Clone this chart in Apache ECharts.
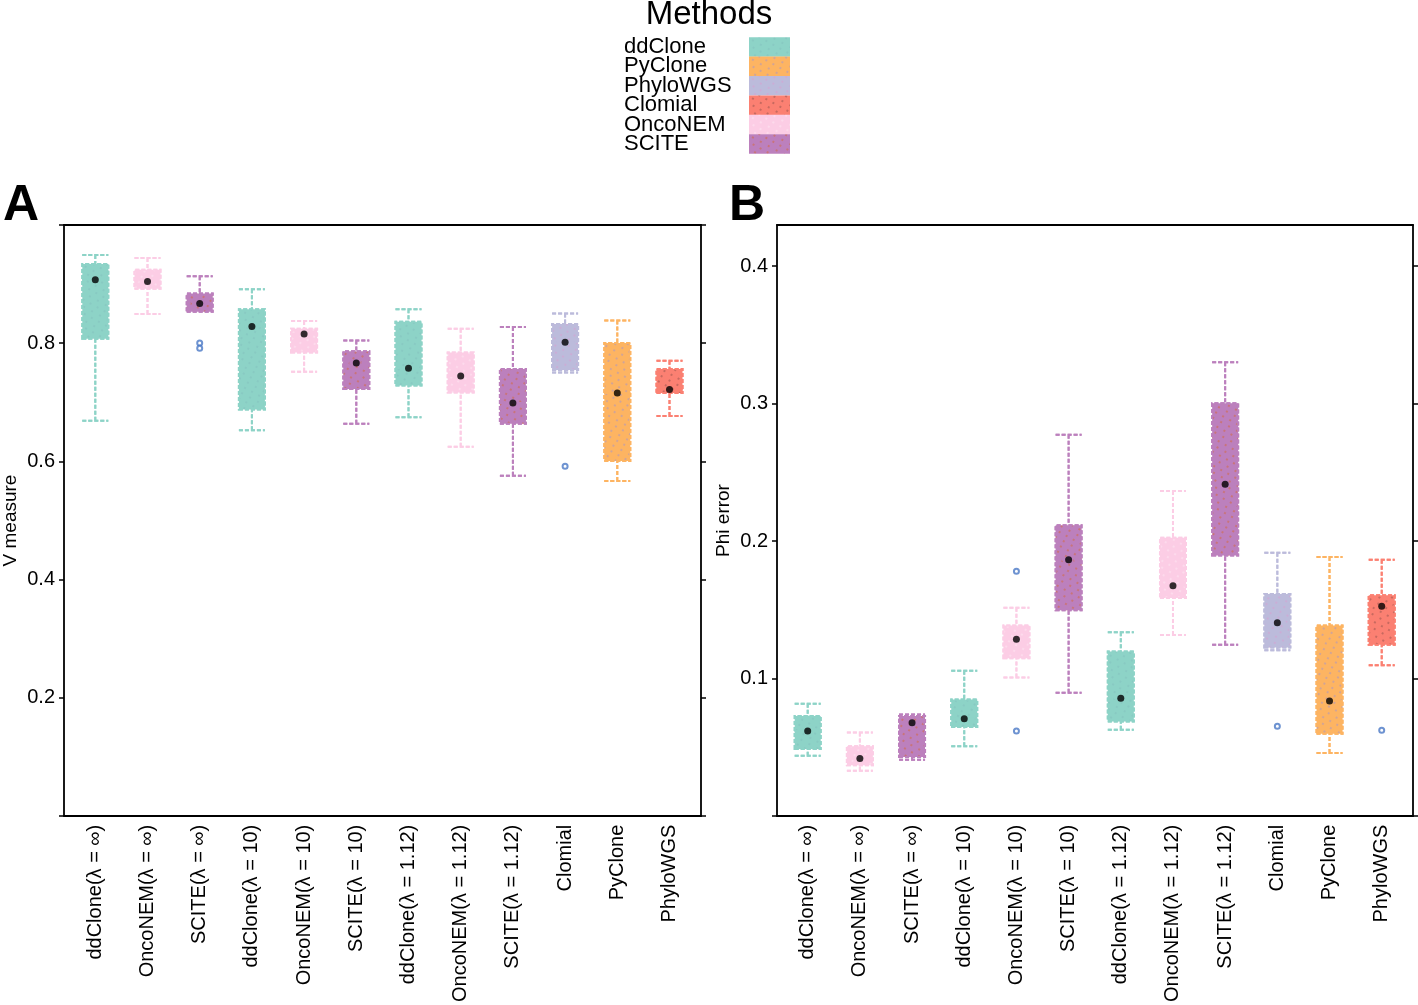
<!DOCTYPE html>
<html>
<head>
<meta charset="utf-8">
<script src="https://cdn.jsdelivr.net/npm/echarts@6/dist/echarts.min.js"></script>
<style>
html,body{margin:0;padding:0;background:#fff;}
#chart{width:1418px;height:1005px;}
</style>
</head>
<body>
<div id="chart"></div>
<script>
// ---------- data ----------
const categories = ['ddClone(λ = ∞)', 'OncoNEM(λ = ∞)', 'SCITE(λ = ∞)',
  'ddClone(λ = 10)', 'OncoNEM(λ = 10)', 'SCITE(λ = 10)',
  'ddClone(λ = 1.12)', 'OncoNEM(λ = 1.12)', 'SCITE(λ = 1.12)',
  'Clomial', 'PyClone', 'PhyloWGS'];
const methods = ['ddClone', 'PyClone', 'PhyloWGS', 'Clomial', 'OncoNEM', 'SCITE'];
// legend colour used by each box (as drawn in the figure)
const boxMethod = ['ddClone', 'OncoNEM', 'SCITE', 'ddClone', 'OncoNEM', 'SCITE',
  'ddClone', 'OncoNEM', 'SCITE', 'PhyloWGS', 'PyClone', 'Clomial'];

// [min, Q1, median, Q3, max]
const vMeasureBoxes = [
  [0.668, 0.807, 0.907, 0.934, 0.949],
  [0.849, 0.892, 0.904, 0.924, 0.944],
  [0.853, 0.853, 0.867, 0.884, 0.913],
  [0.652, 0.687, 0.828, 0.857, 0.891],
  [0.751, 0.784, 0.815, 0.824, 0.837],
  [0.663, 0.722, 0.766, 0.786, 0.804],
  [0.674, 0.728, 0.757, 0.836, 0.857],
  [0.624, 0.716, 0.744, 0.784, 0.824],
  [0.575, 0.663, 0.698, 0.756, 0.827],
  [0.750, 0.754, 0.801, 0.832, 0.850],
  [0.566, 0.600, 0.715, 0.800, 0.838],
  [0.676, 0.715, 0.721, 0.756, 0.770]
];
const vMeasureOutliers = [[2, 0.800], [2, 0.791], [9, 0.591]];

const phiErrorBoxes = [
  [0.043, 0.048, 0.061, 0.072, 0.081],
  [0.032, 0.036, 0.041, 0.050, 0.060],
  [0.040, 0.042, 0.067, 0.072, 0.073],
  [0.050, 0.064, 0.070, 0.084, 0.105],
  [0.100, 0.114, 0.128, 0.138, 0.151],
  [0.089, 0.149, 0.186, 0.211, 0.277],
  [0.062, 0.068, 0.085, 0.119, 0.133],
  [0.131, 0.158, 0.167, 0.202, 0.236],
  [0.124, 0.189, 0.241, 0.300, 0.330],
  [0.120, 0.122, 0.140, 0.161, 0.191],
  [0.045, 0.059, 0.083, 0.138, 0.188],
  [0.109, 0.124, 0.152, 0.160, 0.186]
];
const phiErrorOutliers = [[4, 0.061], [4, 0.1775], [9, 0.0645], [11, 0.0615]];

const vMeasureTickValues = [0, 0.2, 0.4, 0.6, 0.8, 1.0];
const vMeasureLabelValues = [0.2, 0.4, 0.6, 0.8];
const phiErrorTickValues = [0, 0.1, 0.2, 0.3, 0.4];
const phiErrorLabelValues = [0.1, 0.2, 0.3, 0.4];

// ---------- styles ----------
const FONT = "'Liberation Sans', Arial, Helvetica, sans-serif";
const methodColor = {
  ddClone: '#8dd3c7', PyClone: '#fdb462', PhyloWGS: '#bcbbdb',
  Clomial: '#fb8072', OncoNEM: '#fccde5', SCITE: '#bc80bd'
};
const methodDotColor = {
  ddClone: 'rgba(110,150,170,0.2)', PyClone: 'rgba(140,140,235,0.5)', PhyloWGS: 'rgba(235,140,200,0.4)',
  Clomial: 'rgba(80,50,50,0.4)', OncoNEM: 'rgba(255,255,255,0.35)', SCITE: 'rgba(215,100,40,0.6)'
};
function decalFor(m) {
  return {
    symbol: 'circle', symbolSize: 1, symbolKeepAspect: true,
    color: methodDotColor[m], backgroundColor: null,
    dashArrayX: [[1.5, 6], [0, 3.8, 1.5, 2.2]], dashArrayY: [1.5, 3.6],
    rotation: 0.5, maxTileWidth: 512, maxTileHeight: 512
  };
}
const axisLine = { show: true, onZero: false, lineStyle: { color: '#000', width: 1.8 } };
const tickStyle = { color: '#000', width: 1.5 };

function frameX(gridIndex, pos) {
  return { gridIndex, type: 'value', min: 0, max: 1, position: pos,
    axisLine, axisTick: { show: false }, axisLabel: { show: false }, splitLine: { show: false } };
}
function dataX(gridIndex) {
  return { gridIndex, type: 'category', data: categories,
    axisLine: { show: false }, axisTick: { show: false }, splitLine: { show: false },
    axisLabel: { rotate: 90, margin: 10, fontSize: 20, color: '#000', fontFamily: FONT, interval: 0 } };
}
function frameYLeft(gridIndex, max, interval, ticks, labels, name) {
  return { gridIndex, type: 'value', min: 0, max, interval, position: 'left',
    axisLine, splitLine: { show: false },
    axisTick: { show: true, inside: false, length: 5, lineStyle: tickStyle, customValues: ticks },
    axisLabel: { show: true, margin: 9, fontSize: 20, color: '#000', fontFamily: FONT, customValues: labels,
      formatter: v => (labels.some(l => Math.abs(l - v) < 1e-6) ? v.toFixed(1) : '') },
    name, nameLocation: 'middle', nameGap: 44,
    nameTextStyle: { fontSize: 19, color: '#000', fontFamily: FONT } };
}
function frameYRight(gridIndex, max, interval, ticks) {
  return { gridIndex, type: 'value', min: 0, max, interval, position: 'right',
    axisLine, splitLine: { show: false },
    axisTick: { show: true, inside: false, length: 5, lineStyle: tickStyle, customValues: ticks },
    axisLabel: { show: false } };
}
function dataY(gridIndex, max) {
  return { gridIndex, type: 'value', min: 0, max, show: false, splitLine: { show: false } };
}
function boxSeries(boxes, xi, yi) {
  return {
    type: 'boxplot', xAxisIndex: xi, yAxisIndex: yi, boxWidth: [26, 26], z: 2,
    itemStyle: { borderWidth: 2, borderType: [4, 2] },
    data: boxes.map((b, i) => ({
      value: b,
      itemStyle: { color: methodColor[boxMethod[i]], borderColor: methodColor[boxMethod[i]],
        decal: decalFor(boxMethod[i]) }
    })),
    emphasis: { disabled: true }
  };
}
function medianSeries(boxes, xi, yi) {
  return { type: 'scatter', xAxisIndex: xi, yAxisIndex: yi, z: 5, symbol: 'circle', symbolSize: 7,
    itemStyle: { color: '#000' },
    data: boxes.map((b, i) => [i, b[2]]), emphasis: { disabled: true } };
}
function outlierSeries(pts, xi, yi) {
  return { type: 'scatter', xAxisIndex: xi, yAxisIndex: yi, z: 5, symbol: 'emptyCircle', symbolSize: 5,
    itemStyle: { color: '#4a78c6', borderColor: '#4a78c6', borderWidth: 1.5 },
    data: pts, emphasis: { disabled: true } };
}

const option = {
  animation: false,
  backgroundColor: '#fff',
  textStyle: { fontFamily: FONT },
  title: [
    { text: 'Methods', left: 'center', top: -2, padding: 0,
      textStyle: { fontSize: 33, fontWeight: 'normal', color: '#000', fontFamily: FONT } },
    { text: 'A', left: 3, top: 181, padding: 0,
      textStyle: { fontSize: 50, fontWeight: 'bold', color: '#000', fontFamily: FONT } },
    { text: 'B', left: 729, top: 181, padding: 0,
      textStyle: { fontSize: 50, fontWeight: 'bold', color: '#000', fontFamily: FONT } }
  ],
  legend: {
    data: methods, orient: 'vertical', left: 624, top: 36, align: 'right', padding: 0,
    itemWidth: 41, itemHeight: 19.6, itemGap: -2.6, icon: 'rect', selectedMode: false,
    formatter: n => '{t|' + n + '}',
    textStyle: { fontSize: 22, lineHeight: 19.6,
      rich: { t: { width: 120, align: 'left', fontSize: 22, lineHeight: 19.6,
      fontFamily: FONT, color: '#000' } } }
  },
  grid: [
    { left: 63, top: 225, width: 638, height: 591 },
    { left: 69.2, top: 225, width: 626.4, height: 591 },
    { left: 777, top: 225, width: 636, height: 591 },
    { left: 781.6, top: 225, width: 626.2, height: 591 }
  ],
  xAxis: [frameX(0, 'bottom'), frameX(0, 'top'), dataX(1),
          frameX(2, 'bottom'), frameX(2, 'top'), dataX(3)],
  yAxis: [
    frameYLeft(0, 1, 0.2, vMeasureTickValues, vMeasureLabelValues, 'V measure'),
    frameYRight(0, 1, 0.2, vMeasureTickValues),
    dataY(1, 1),
    frameYLeft(2, 0.43, 0.1, phiErrorTickValues, phiErrorLabelValues, 'Phi error'),
    frameYRight(2, 0.43, 0.1, phiErrorTickValues),
    dataY(3, 0.43)
  ],
  series: [
    boxSeries(vMeasureBoxes, 2, 2),
    medianSeries(vMeasureBoxes, 2, 2),
    outlierSeries(vMeasureOutliers, 2, 2),
    boxSeries(phiErrorBoxes, 5, 5),
    medianSeries(phiErrorBoxes, 5, 5),
    outlierSeries(phiErrorOutliers, 5, 5)
  ].concat(methods.map(m => ({
    type: 'bar', name: m, xAxisIndex: 2, yAxisIndex: 2, data: [],
    itemStyle: { color: methodColor[m], decal: decalFor(m) }
  })))
};

const chart = echarts.init(document.getElementById('chart'), null, { renderer: 'canvas' });
chart.setOption(option);
</script>
</body>
</html>
